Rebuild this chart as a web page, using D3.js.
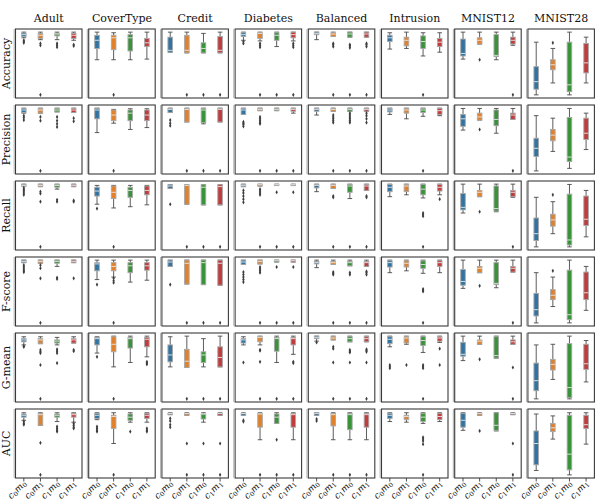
<!DOCTYPE html>
<html>
<head>
<meta charset="utf-8">
<script src="https://cdn.jsdelivr.net/npm/d3@7"></script>
<style>
  body { margin: 0; background: #fff; }
  svg { display: block; }
  text { font-family: "DejaVu Serif", serif; fill: #111; }
</style>
</head>
<body>
<svg id="chart" width="598" height="502"></svg>
<script>
// datasets (columns), metrics (rows), and model groups (x ticks)
var datasets = ["Adult", "CoverType", "Credit", "Diabetes", "Balanced", "Intrusion", "MNIST12", "MNIST28"];
var metrics = ["Accuracy", "Precision", "Recall", "F-score", "G-mean", "AUC"];
var groups = [["c","0","m","0"], ["c","0","m","1"], ["c","1","m","0"], ["c","1","m","1"]];
var colors = ["#3274a1", "#e1812c", "#3a923a", "#c03d3e"];

// each box: [whisker low, q1, median, q3, whisker high, [outliers]]
var accuracy = [
  [[0.91,0.93,0.96,0.985,1.0,[0.87,0.85,0.83]], [0.88,0.90,0.95,0.98,1.0,[0.82,0.79,0]], [0.88,0.94,0.97,0.98,1.0,[0.82,0.79,0.76]], [0.87,0.90,0.95,0.98,1.0,[0.80,0.78]]],
  [[0.56,0.74,0.87,0.95,1.0,[]], [0.56,0.72,0.91,0.95,0.99,[0]], [0.56,0.70,0.91,0.96,1.0,[]], [0.57,0.77,0.83,0.90,1.0,[]]],
  [[0.68,0.68,0.71,0.92,1.0,[]], [0.67,0.67,0.71,0.95,1.0,[0]], [0.67,0.67,0.74,0.83,0.98,[0]], [0.67,0.67,0.71,0.93,1.0,[0]]],
  [[0.87,0.93,0.96,0.99,1.0,[0.85,0.82]], [0.86,0.90,0.98,0.99,1.0,[0.82,0.79,0.76,0]], [0.77,0.87,0.95,0.99,1.0,[0]], [0.86,0.91,0.96,1.0,1.0,[0.82,0.79,0.76,0]]],
  [[0.88,0.96,0.98,1.0,1.0,[]], [0.93,0.93,0.97,0.99,1.0,[0.82,0.80,0.77,0]], [0.92,0.92,0.97,1.0,1.0,[0.80,0.78,0.75,0]], [0.92,0.92,0.97,1.0,1.0,[0.82,0.80,0.77,0]]],
  [[0.73,0.85,0.91,0.95,0.99,[]], [0.74,0.78,0.87,0.92,1.0,[]], [0.62,0.74,0.85,0.94,0.99,[0]], [0.68,0.77,0.84,0.90,0.99,[]]],
  [[0.57,0.62,0.66,0.89,1.0,[]], [0.81,0.81,0.87,0.91,1.0,[0.56]], [0.56,0.61,0.63,0.96,1.0,[]], [0.79,0.81,0.87,0.92,1.0,[0]]],
  [[0.0,0.09,0.21,0.45,0.84,[]], [0.19,0.40,0.48,0.56,0.74,[0.83]], [0.0,0.05,0.16,0.84,1.0,[]], [0.19,0.35,0.51,0.82,0.92,[]]]
];
var precision = [
  [[0.92,0.93,0.97,0.995,1.0,[0.88,0.85,0.81]], [0.92,0.92,0.97,0.995,1.0,[0.86,0.80,0]], [0.94,0.94,0.97,0.995,1.0,[0.86,0.80,0.75,0.70]], [0.93,0.93,0.97,0.995,1.0,[0.84,0.79]]],
  [[0.61,0.83,0.97,0.995,1.0,[]], [0.76,0.80,0.89,0.97,0.98,[0]], [0.66,0.80,0.92,0.97,0.99,[]], [0.69,0.80,0.89,0.97,0.99,[]]],
  [[0.93,0.93,0.98,0.995,1.0,[0.81,0.76,0.72]], [0.78,0.78,0.98,0.995,1.0,[0]], [0.75,0.77,0.97,0.995,1.0,[0]], [0.78,0.78,0.98,0.995,1.0,[0]]],
  [[0.90,0.90,0.97,0.995,1.0,[0.78,0.76,0.74,0.71]], [0.96,0.96,0.98,0.995,1.0,[0.86,0.83,0.80,0.77,0.75,0]], [0.96,0.96,0.98,0.995,1.0,[0]], [0.92,0.95,0.98,0.995,1.0,[0]]],
  [[0.89,0.95,0.98,0.995,1.0,[]], [0.95,0.95,0.98,0.995,1.0,[0.89,0.86,0.83,0.80,0.77,0]], [0.95,0.95,0.98,0.995,1.0,[0.92,0.89,0.86,0.83,0.80,0.77,0]], [0.95,0.95,0.98,0.995,1.0,[0.92,0.88,0.83,0.77,0]]],
  [[0.90,0.94,0.97,0.995,1.0,[]], [0.83,0.92,0.97,0.995,1.0,[]], [0.87,0.93,0.97,0.995,1.0,[0]], [0.88,0.90,0.96,0.995,1.0,[]]],
  [[0.65,0.71,0.83,0.90,0.995,[]], [0.81,0.81,0.86,0.92,0.995,[0.66]], [0.60,0.72,0.82,0.97,0.995,[]], [0.82,0.82,0.89,0.92,0.995,[0]]],
  [[0.0,0.23,0.36,0.52,0.88,[]], [0.31,0.48,0.57,0.66,0.84,[]], [0.04,0.15,0.22,0.85,0.995,[]], [0.34,0.50,0.60,0.84,0.92,[]]]
];
var recall = [
  [[0.97,0.97,0.98,0.995,1.0,[0.94,0.91,0.89,0.86,0.83]], [0.96,0.96,0.98,0.995,1.0,[0.88,0.85,0.72,0]], [0.92,0.95,0.98,0.995,1.0,[0.75,0.72]], [0.96,0.96,0.98,0.995,1.0,[0.74,0.72]]],
  [[0.68,0.81,0.89,0.95,0.98,[0.61]], [0.62,0.77,0.87,0.97,0.98,[0]], [0.64,0.79,0.90,0.95,0.98,[]], [0.67,0.83,0.90,0.97,0.98,[]]],
  [[0.93,0.93,0.97,0.99,0.99,[0.68]], [0.68,0.68,0.98,0.99,0.99,[0]], [0.67,0.67,0.95,0.99,0.99,[0]], [0.67,0.67,0.96,0.99,0.99,[0]]],
  [[0.96,0.96,0.98,0.995,1.0,[0.90,0.86,0.81,0.76,0.71]], [0.97,0.97,0.99,0.995,1.0,[0.92,0.89,0.86,0.83,0]], [0.99,0.99,0.99,0.995,1.0,[0.87,0]], [0.98,0.98,0.99,0.995,1.0,[0.87,0]]],
  [[0.88,0.94,0.98,0.995,1.0,[]], [0.93,0.93,0.98,0.995,1.0,[0.81,0.79,0]], [0.77,0.87,0.97,0.995,1.0,[0]], [0.90,0.90,0.97,0.995,1.0,[0.81,0.79,0]]],
  [[0.80,0.88,0.95,0.995,1.0,[]], [0.83,0.88,0.97,0.995,1.0,[]], [0.78,0.83,0.92,0.995,1.0,[0.54,0.51,0.49,0]], [0.83,0.89,0.95,0.995,1.0,[0.76]]],
  [[0.54,0.59,0.63,0.85,1.0,[]], [0.80,0.80,0.87,0.90,1.0,[0.56]], [0.56,0.57,0.61,0.97,1.0,[]], [0.79,0.80,0.87,0.90,1.0,[0]]],
  [[0.0,0.10,0.21,0.46,0.79,[]], [0.21,0.33,0.43,0.52,0.72,[0.83]], [0.0,0.03,0.11,0.84,0.995,[]], [0.16,0.34,0.44,0.81,0.90,[]]]
];
var fscore = [
  [[0.96,0.96,0.98,1.0,1.0,[0.92,0.89,0.86,0.83,0.81]], [0.95,0.95,0.98,1.0,1.0,[0.92,0.87,0.71,0]], [0.90,0.95,0.98,1.0,1.0,[0.72,0.70]], [0.96,0.96,0.98,1.0,1.0,[0.71]]],
  [[0.69,0.83,0.94,0.96,1.0,[0.61]], [0.73,0.83,0.90,0.96,1.0,[0.71,0.67,0.64,0]], [0.65,0.80,0.91,0.96,1.0,[]], [0.68,0.84,0.91,0.96,1.0,[]]],
  [[0.90,0.90,0.97,1.0,1.0,[0.61]], [0.62,0.62,0.95,1.0,1.0,[0]], [0.61,0.61,0.96,1.0,1.0,[0]], [0.60,0.60,0.95,1.0,1.0,[0]]],
  [[0.93,0.93,0.97,1.0,1.0,[0.81,0.77,0.73,0.69,0.65]], [0.94,0.94,0.98,1.0,1.0,[0.89,0.86,0.83,0.80,0]], [0.97,0.97,0.99,1.0,1.0,[0.89,0]], [0.97,0.97,0.99,1.0,1.0,[0.89,0]]],
  [[0.88,0.94,0.96,0.98,1.0,[]], [0.93,0.93,0.96,0.98,1.0,[0.81,0.79,0.77,0]], [0.91,0.91,0.96,0.98,1.0,[0.80,0.77,0]], [0.90,0.90,0.96,0.98,1.0,[0.82,0.80,0.77,0]]],
  [[0.80,0.89,0.96,0.99,1.0,[]], [0.83,0.89,0.95,0.99,1.0,[]], [0.79,0.87,0.93,0.99,1.0,[0.54,0.52,0.50,0]], [0.80,0.90,0.96,0.99,1.0,[]]],
  [[0.55,0.60,0.66,0.85,1.0,[]], [0.80,0.80,0.87,0.90,1.0,[0.59]], [0.56,0.61,0.63,0.96,1.0,[]], [0.81,0.81,0.87,0.90,1.0,[0]]],
  [[0.0,0.11,0.21,0.47,0.80,[]], [0.26,0.37,0.44,0.53,0.73,[0.83]], [0.0,0.05,0.13,0.84,1.0,[]], [0.20,0.37,0.48,0.81,0.90,[]]]
];
var gmean = [
  [[0.86,0.91,0.94,0.96,0.99,[0.84,0.83]], [0.88,0.88,0.94,0.96,0.99,[0.78,0.75,0.73,0.54,0]], [0.86,0.89,0.92,0.94,0.98,[0.79,0.76,0.73,0.57]], [0.89,0.89,0.94,0.96,0.99,[0.78,0.76]]],
  [[0.73,0.86,0.96,0.98,0.99,[0.67]], [0.51,0.75,0.87,0.99,1.0,[0]], [0.58,0.81,0.96,0.98,1.0,[]], [0.67,0.83,0.95,0.98,1.0,[0.59,0.57,0.55]]],
  [[0.51,0.59,0.70,0.86,0.99,[]], [0.50,0.50,0.60,0.79,1.0,[0]], [0.51,0.58,0.70,0.75,0.96,[0]], [0.51,0.51,0.66,0.83,1.0,[0]]],
  [[0.86,0.89,0.94,0.96,0.99,[0.58]], [0.86,0.91,0.98,0.99,1.0,[0.78,0.77,0.59,0]], [0.58,0.76,0.96,0.98,1.0,[0]], [0.71,0.86,0.96,0.98,1.0,[0.59,0.57,0]]],
  [[0.92,0.96,0.98,1.0,1.0,[0.90]], [0.94,0.94,0.97,0.99,1.0,[0.83,0.80,0.58,0]], [0.91,0.91,0.96,0.99,1.0,[0.78,0.76,0.74,0.58,0]], [0.91,0.91,0.96,0.99,1.0,[0.79,0.77,0.75,0.58,0]]],
  [[0.83,0.88,0.95,0.99,1.0,[0.54,0.51,0.49]], [0.87,0.89,0.97,0.99,1.0,[0.54]], [0.74,0.85,0.93,0.99,1.0,[0.54,0.51,0.49,0]], [0.90,0.92,0.97,0.99,1.0,[0.80,0.54]]],
  [[0.61,0.68,0.71,0.90,1.0,[]], [0.87,0.87,0.92,0.94,1.0,[0.63]], [0.65,0.65,0.69,0.99,1.0,[]], [0.87,0.87,0.91,0.94,1.0,[0.50,0]]],
  [[0.0,0.13,0.29,0.57,0.86,[]], [0.31,0.46,0.55,0.63,0.87,[]], [0.0,0.02,0.18,0.88,1.0,[]], [0.27,0.47,0.56,0.87,0.93,[]]]
];
var auc = [
  [[0.87,0.92,0.95,0.97,0.99,[0.85,0.82,0.80]], [0.79,0.79,0.96,0.98,0.99,[0.51,0]], [0.85,0.92,0.95,0.97,0.99,[0.77,0.74,0.71,0.69]], [0.84,0.92,0.96,0.98,0.99,[0.82,0.79,0.76,0.74]]],
  [[0.88,0.90,0.95,0.98,0.99,[0.77,0.74,0.71,0.69]], [0.50,0.74,0.93,0.95,0.99,[0]], [0.84,0.87,0.92,0.97,0.99,[0.69]], [0.84,0.90,0.95,0.98,0.99,[0.74,0.71,0.69]]],
  [[0.96,0.96,0.98,0.98,0.99,[0.90,0.86,0.80,0.76]], [0.95,0.95,0.98,0.98,0.99,[0.50,0]], [0.84,0.89,0.97,0.97,0.99,[0.50,0]], [0.95,0.95,0.98,0.98,0.99,[0.50,0]]],
  [[0.95,0.95,0.98,0.98,0.99,[0.87,0.85]], [0.56,0.76,0.97,0.98,0.99,[0]], [0.82,0.82,0.92,0.97,0.99,[0.56,0]], [0.56,0.76,0.96,0.98,0.99,[0]]],
  [[0.95,0.95,0.98,0.99,0.99,[0.89,0.86]], [0.56,0.78,0.96,0.98,0.99,[0]], [0.56,0.72,0.96,0.98,0.99,[0]], [0.56,0.76,0.96,0.98,0.99,[0]]],
  [[0.85,0.90,0.95,0.98,0.99,[]], [0.84,0.88,0.93,0.95,0.99,[]], [0.82,0.85,0.92,0.98,0.99,[0.60,0.57,0.54,0.49,0]], [0.85,0.88,0.93,0.98,0.99,[]]],
  [[0.71,0.76,0.87,0.98,0.99,[]], [0.95,0.95,0.98,0.98,0.99,[0.70]], [0.70,0.71,0.79,0.99,0.99,[]], [0.96,0.96,0.98,0.98,0.99,[0.50,0]]],
  [[0.07,0.16,0.50,0.70,0.97,[]], [0.57,0.69,0.75,0.82,0.94,[]], [0.0,0.08,0.33,0.95,0.99,[]], [0.49,0.74,0.80,0.95,0.99,[]]]
];

var allStats = [accuracy, precision, recall, fscore, gmean, auc];

var svg = d3.select("#chart");
var left = 15.5, top0 = 29, pw = 66.5, ph = 69, dx = 73.2, dy = 76;
var boxW = 4.6;

var x = d3.scaleBand().domain(d3.range(groups.length)).range([0, pw]);
var y = d3.scaleLinear().domain([-0.05, 1.05]).range([ph, 0]);

allStats.forEach(function(rowStats, r) {
  datasets.forEach(function(name, c) {
    var g = svg.append("g")
      .attr("transform", "translate(" + (left + c * dx) + "," + (top0 + r * dy) + ")");

    // boxes
    rowStats[c].forEach(function(s, i) {
      var cx = x(i) + x.bandwidth() / 2;
      var b = g.append("g").attr("transform", "translate(" + cx + ",0)");
      // whiskers
      b.append("line").attr("x1", 0).attr("x2", 0).attr("y1", y(s[4])).attr("y2", y(s[3]))
        .attr("stroke", "#4a4a4a").attr("stroke-width", 0.9);
      b.append("line").attr("x1", 0).attr("x2", 0).attr("y1", y(s[1])).attr("y2", y(s[0]))
        .attr("stroke", "#4a4a4a").attr("stroke-width", 0.9);
      // caps
      [s[0], s[4]].forEach(function(v) {
        b.append("line").attr("x1", -boxW / 2).attr("x2", boxW / 2).attr("y1", y(v)).attr("y2", y(v))
          .attr("stroke", "#4a4a4a").attr("stroke-width", 0.9);
      });
      // box
      b.append("rect")
        .attr("x", -boxW / 2).attr("width", boxW)
        .attr("y", y(s[3])).attr("height", Math.max(y(s[1]) - y(s[3]), 1.2))
        .attr("fill", colors[i])
        .attr("stroke", "#a8a8a8").attr("stroke-width", 0.9);
      // median
      b.append("line").attr("x1", -boxW / 2).attr("x2", boxW / 2).attr("y1", y(s[2])).attr("y2", y(s[2]))
        .attr("stroke", "#e8e8e8").attr("stroke-width", 0.9);
      // outliers
      b.selectAll(".flier").data(s[5]).enter().append("path")
        .attr("class", "flier")
        .attr("d", d3.symbol(d3.symbolDiamond, 5))
        .attr("transform", function(v) { return "translate(0," + y(v) + ")"; })
        .attr("fill", "#3d3d3d");
    });

    // frame
    g.append("rect").attr("width", pw).attr("height", ph)
      .attr("fill", "none").attr("stroke", "#3a3a3a").attr("stroke-width", 1.1);
    g.append("line").attr("x1", -1.3).attr("x2", -1.3).attr("y1", 0).attr("y2", ph)
      .attr("stroke", "#b8b8b8").attr("stroke-width", 1.2);

    if (r === 0) {
      g.append("text").attr("x", pw / 2).attr("y", -7)
        .attr("text-anchor", "middle").attr("font-size", "11px")
        .text(name);
    }
    if (c === 0) {
      g.append("text")
        .attr("transform", "translate(-6," + (ph / 2) + ") rotate(-90)")
        .attr("text-anchor", "middle").attr("font-size", "11px")
        .text(metrics[r]);
    }
    if (r === allStats.length - 1) {
      groups.forEach(function(lab, i) {
        var cx = x(i) + x.bandwidth() / 2;
        g.append("line").attr("x1", cx).attr("x2", cx).attr("y1", ph).attr("y2", ph + 3.5)
          .attr("stroke", "#3a3a3a").attr("stroke-width", 0.9);
        var t = g.append("text")
          .attr("transform", "translate(" + (cx + 3) + "," + (ph + 6) + ") rotate(-45)")
          .attr("text-anchor", "end").attr("font-size", "9px").attr("font-style", "italic");
        t.append("tspan").text(lab[0]);
        t.append("tspan").attr("font-size", "6.5px").attr("dy", 1.5).attr("font-style", "normal").text(lab[1]);
        t.append("tspan").attr("dy", -1.5).text(lab[2]);
        t.append("tspan").attr("font-size", "6.5px").attr("dy", 1.5).attr("font-style", "normal").text(lab[3]);
      });
    }
  });
});
</script>
</body>
</html>
